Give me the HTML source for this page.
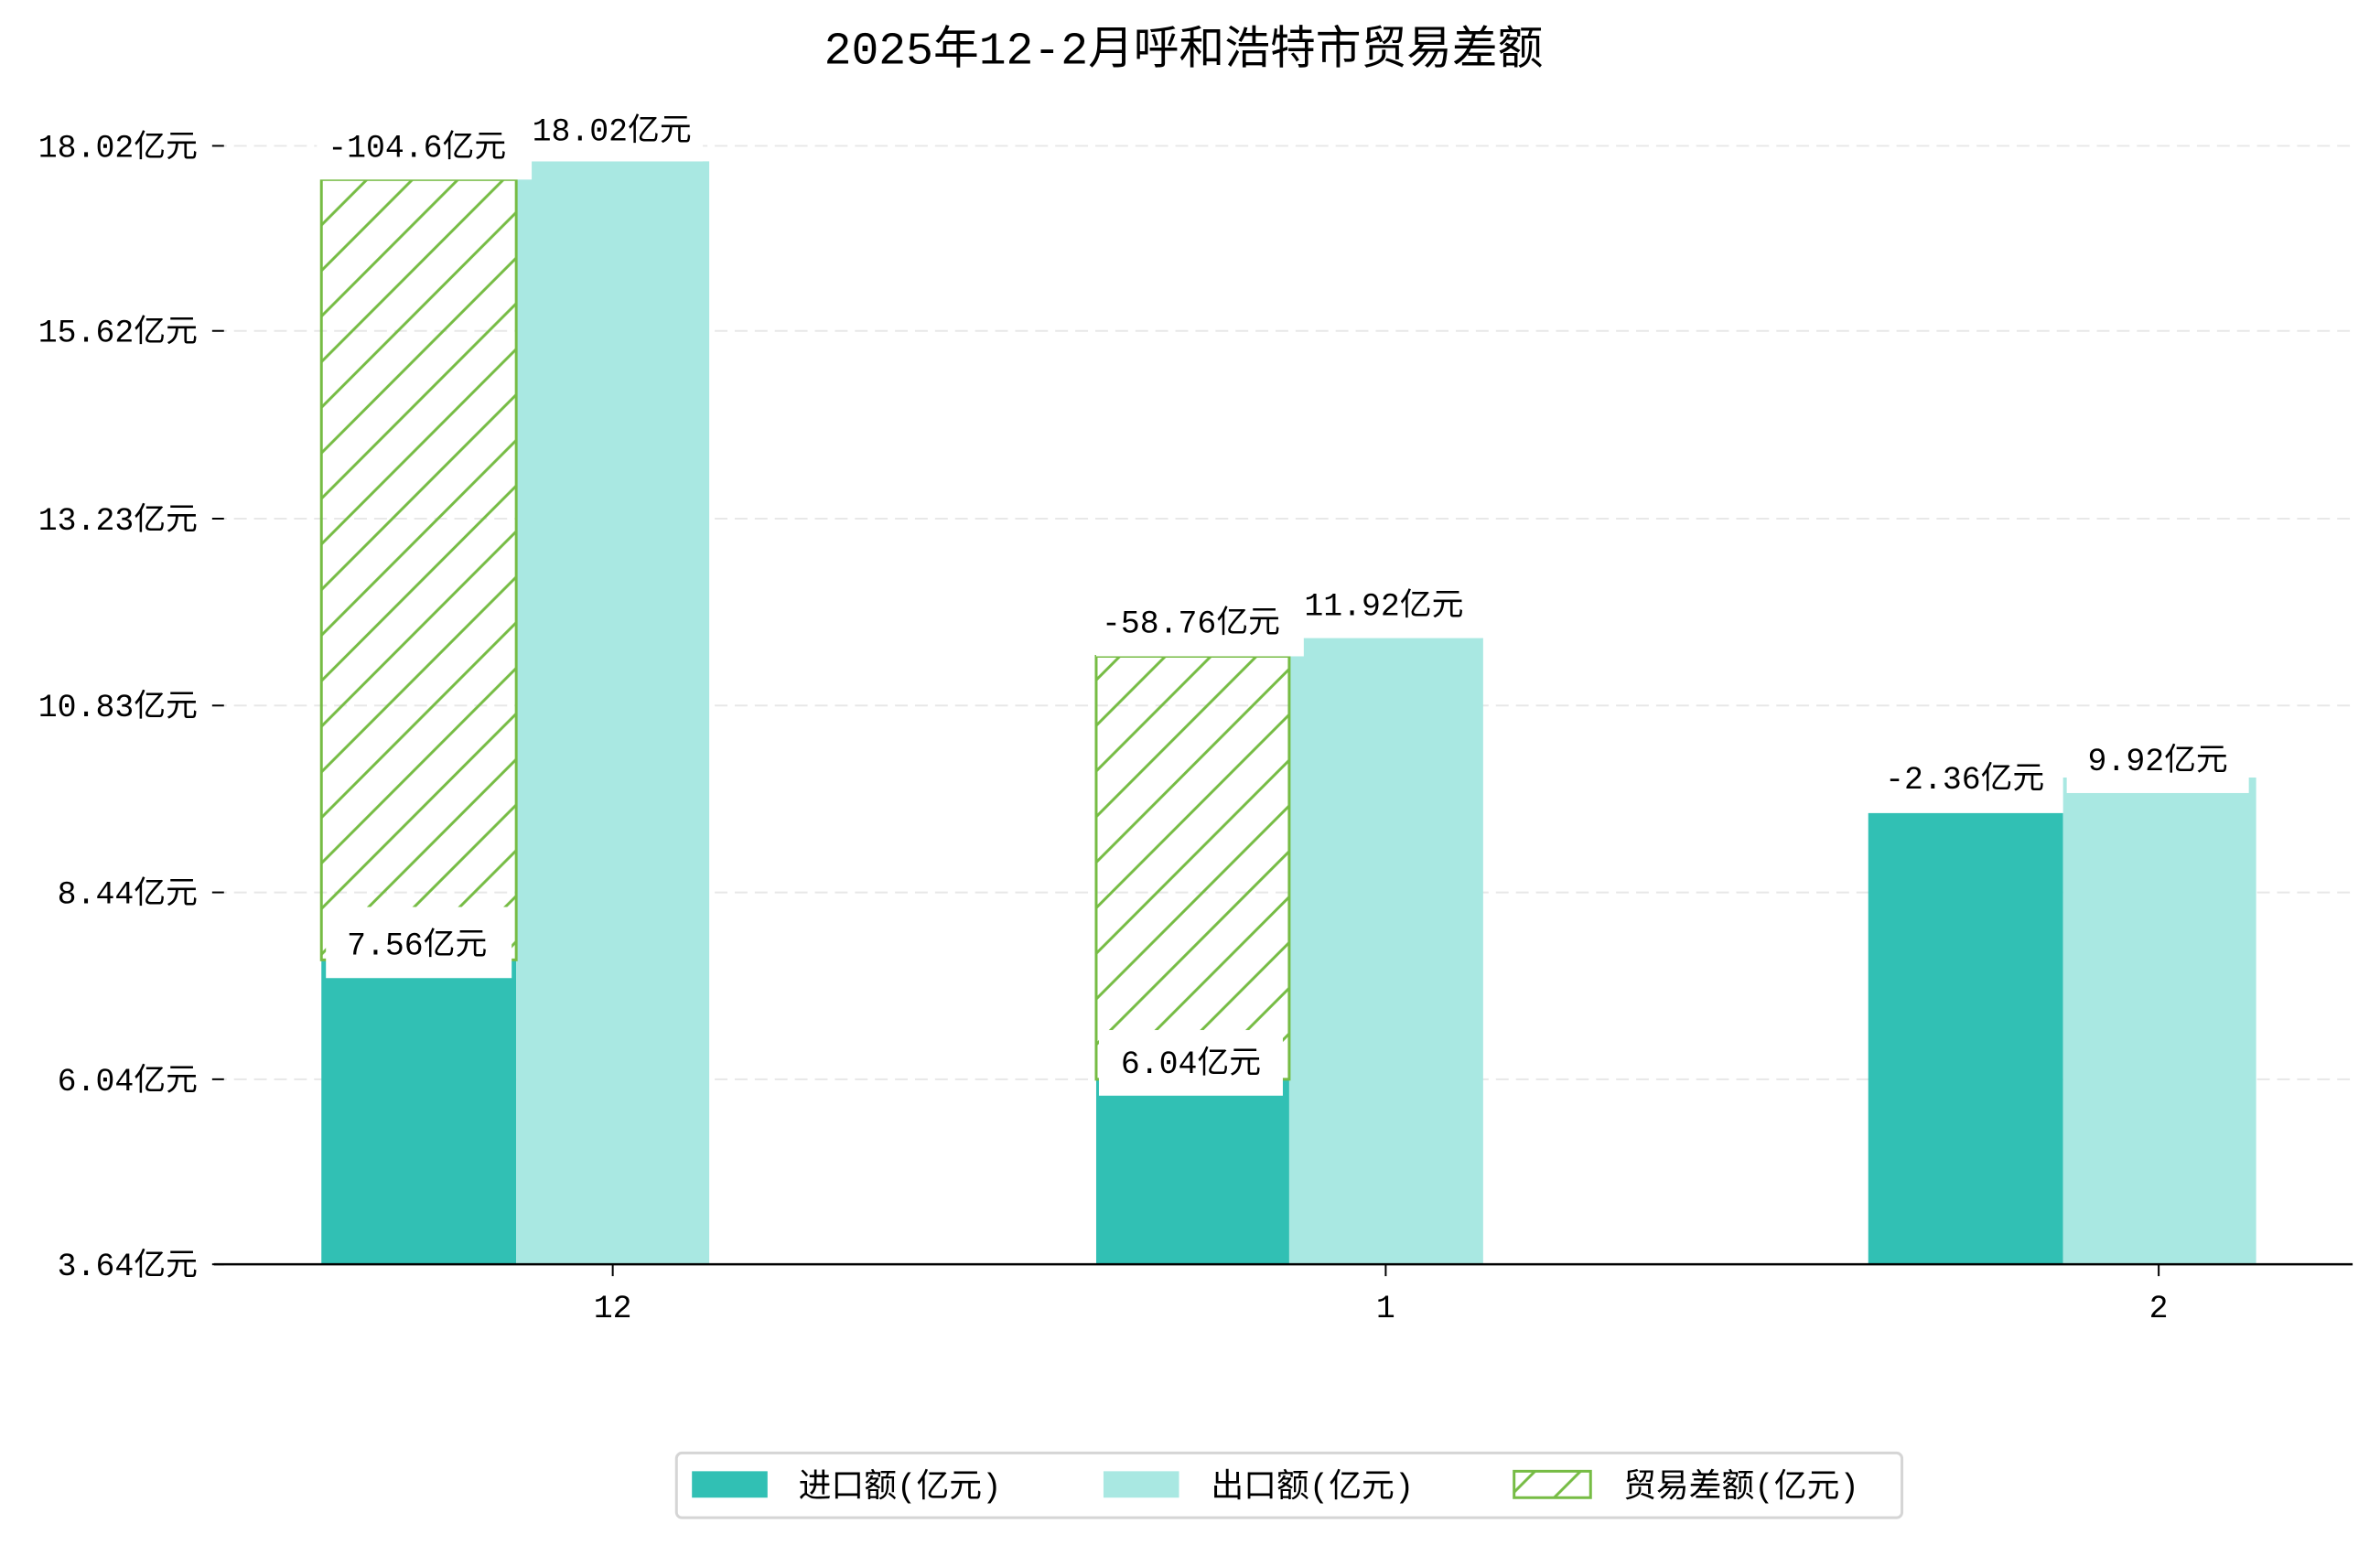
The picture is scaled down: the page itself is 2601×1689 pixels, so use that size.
<!DOCTYPE html>
<html><head><meta charset="utf-8"><style>
html,body{margin:0;padding:0;background:#fff;}
svg{display:block;}
text{font-family:"Liberation Mono","Noto Sans CJK SC",monospace;fill:#000;}
</style></head><body>
<svg width="2601" height="1689" viewBox="0 0 2601 1689" xmlns="http://www.w3.org/2000/svg">
<defs>
<pattern id="h" patternUnits="userSpaceOnUse" width="50" height="50">
<path d="M-5,55 L55,-5 M-5,5 L5,-5 M45,55 L55,45" stroke="#76bc44" stroke-width="3"/>
</pattern>
</defs>
<g transform="scale(0.995,0.9965)">
<text x="1300" y="70" font-size="50" text-anchor="middle">2025年12-2月呼和浩特市贸易差额</text>
<g stroke="#e8e8e8" stroke-width="2" stroke-dasharray="14,8">
<line x1="235" y1="160" x2="2584" y2="160"/>
<line x1="235" y1="363" x2="2584" y2="363"/>
<line x1="235" y1="569" x2="2584" y2="569"/>
<line x1="235" y1="774" x2="2584" y2="774"/>
<line x1="235" y1="979" x2="2584" y2="979"/>
<line x1="235" y1="1184" x2="2584" y2="1184"/>
</g>
<g font-size="35" text-anchor="end">
<text x="217" y="172">18.02亿元</text>
<text x="217" y="375">15.62亿元</text>
<text x="217" y="581">13.23亿元</text>
<text x="217" y="786">10.83亿元</text>
<text x="217" y="991">8.44亿元</text>
<text x="217" y="1196">6.04亿元</text>
<text x="217" y="1399">3.64亿元</text>
</g>
<g stroke="#000" stroke-width="2">
<line x1="233" y1="160" x2="246" y2="160"/><line x1="233" y1="363" x2="246" y2="363"/>
<line x1="233" y1="569" x2="246" y2="569"/><line x1="233" y1="774" x2="246" y2="774"/>
<line x1="233" y1="979" x2="246" y2="979"/><line x1="233" y1="1184" x2="246" y2="1184"/>
<line x1="233" y1="1387" x2="246" y2="1387"/>
</g>
<rect x="353" y="1053" width="214" height="334" fill="#31c0b4"/>
<rect x="567" y="177" width="212" height="1210" fill="#a9e8e2"/>
<rect x="353" y="197" width="214" height="856" fill="url(#h)" stroke="#76bc44" stroke-width="3"/>
<rect x="1204" y="1184" width="212" height="203" fill="#31c0b4"/>
<rect x="1416" y="700" width="213" height="687" fill="#a9e8e2"/>
<rect x="1204" y="720" width="212" height="464" fill="url(#h)" stroke="#76bc44" stroke-width="3"/>
<rect x="2052" y="892" width="214" height="495" fill="#31c0b4"/>
<rect x="2266" y="853" width="212" height="534" fill="#a9e8e2"/>
<g fill="#fff">
<rect x="348" y="135" width="236" height="62"/>
<rect x="572" y="115" width="200" height="62"/>
<rect x="358" y="995" width="204" height="78"/>
<rect x="1204" y="655" width="228" height="65"/>
<rect x="1428" y="635" width="200" height="65"/>
<rect x="1207" y="1130" width="202" height="72"/>
<rect x="2056" y="827" width="204" height="62"/>
<rect x="2270" y="808" width="200" height="62"/>
</g>
<g font-size="35" text-anchor="middle">
<text x="458" y="172">-104.6亿元</text>
<text x="672" y="154">18.02亿元</text>
<text x="458" y="1047">7.56亿元</text>
<text x="1308" y="694">-58.76亿元</text>
<text x="1520" y="675">11.92亿元</text>
<text x="1308" y="1177">6.04亿元</text>
<text x="2158" y="865">-2.36亿元</text>
<text x="2370" y="845">9.92亿元</text>
</g>
<line x1="235" y1="1387" x2="2584" y2="1387" stroke="#000" stroke-width="2.5"/>
<g stroke="#000" stroke-width="2">
<line x1="673" y1="1387" x2="673" y2="1400"/><line x1="1522" y1="1387" x2="1522" y2="1400"/><line x1="2371" y1="1387" x2="2371" y2="1400"/>
</g>
<g font-size="35" text-anchor="middle">
<text x="673" y="1445">12</text><text x="1522" y="1445">1</text><text x="2371" y="1445">2</text>
</g>
<rect x="743" y="1594" width="1346" height="71" rx="6" fill="#fff" stroke="#d5d5d5" stroke-width="3"/>
<rect x="760" y="1614" width="83" height="29" fill="#31c0b4"/>
<rect x="1212" y="1614" width="83" height="29" fill="#a9e8e2"/>
<rect x="1663" y="1614" width="84" height="29" fill="url(#h)" stroke="#76bc44" stroke-width="3"/>
<g font-size="36">
<text x="877" y="1642">进口额(亿元)</text>
<text x="1330" y="1642">出口额(亿元)</text>
<text x="1783" y="1642">贸易差额(亿元)</text>
</g>
</g>
</svg>
</body></html>
